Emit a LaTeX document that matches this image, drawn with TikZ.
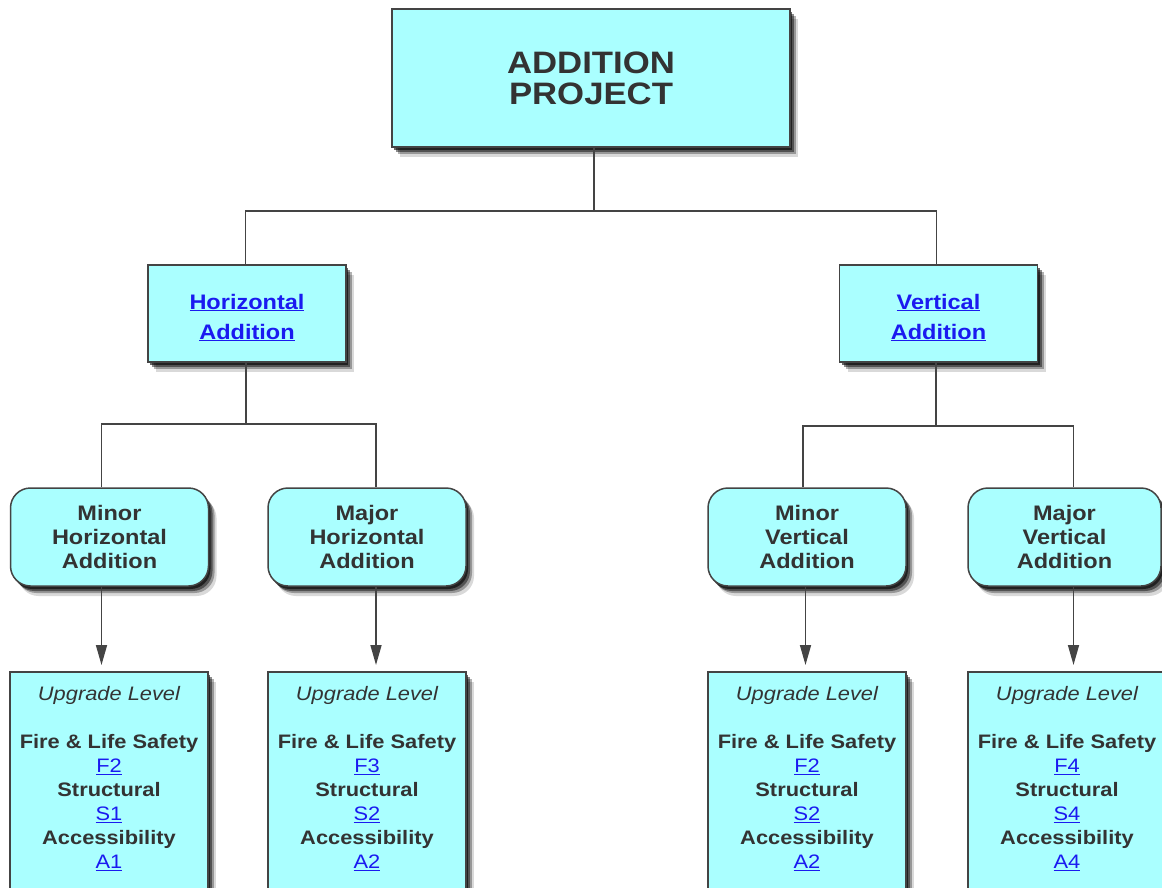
\documentclass[tikz,border=0pt]{standalone}
\usepackage{fontspec}
\setmainfont[FakeStretch=1.12]{Liberation Sans}
\usetikzlibrary{shadows,arrows.meta,calc}
\definecolor{boxfill}{HTML}{AAFFFF}
\definecolor{edge}{HTML}{444444}
\definecolor{txt}{HTML}{333333}
\definecolor{link}{HTML}{1A1AF0}
\newcommand{\lnk}[1]{\textcolor{link}{\underline{#1}}}
\tikzset{
  base/.style={draw=edge, line width=1.5pt, fill=boxfill, text=txt, align=center, inner sep=0pt},
  shad/.style={
    drop shadow={shadow xshift=2pt, shadow yshift=-3pt, opacity=.6, fill=black},
    drop shadow={shadow xshift=4pt, shadow yshift=-5pt, opacity=.45, fill=black},
    drop shadow={shadow xshift=6pt, shadow yshift=-7pt, opacity=.3, fill=black},
    drop shadow={shadow xshift=8pt, shadow yshift=-10pt, opacity=.15, fill=black}},
  topbox/.style={base, shad, minimum width=398pt, minimum height=138pt, font=\bfseries\fontsize{31}{31}\selectfont},
  midbox/.style={base, shad, minimum width=198pt, minimum height=97pt},
  midtext/.style={text=txt, align=center, inner sep=0pt, yshift=-4pt, font=\bfseries\fontsize{21}{30}\selectfont},
  roundbox/.style={base, shad, rounded corners=20pt, minimum width=198pt, minimum height=98pt, font=\bfseries\fontsize{21}{24}\selectfont},
  lowbox/.style={base, shad, minimum width=198pt, minimum height=260pt, anchor=north},
  lowtext/.style={text=txt, align=center, inner sep=0pt, anchor=north, font=\fontsize{19.5}{24}\selectfont},
  conn/.style={draw=edge, line width=1.6pt},
  arr/.style={conn, -{Triangle[length=20pt,width=11pt]}, shorten >=6pt}
}
\begin{document}
\begin{tikzpicture}[x=1pt,y=-1pt]
\clip (0,0) rectangle (1162,888);
\fill[white] (0,0) rectangle (1162,888);

% boxes
\node[topbox] (top) at (591,78) {ADDITION\\PROJECT};
\node[midbox] (ha) at (247,313.5) {};
\node[midtext] (hat) at (ha.center) {\lnk{Horizontal}\\\lnk{Addition}};
\node[midbox] (va) at (938.5,313.5) {};
\node[midtext] (vat) at (va.center) {\lnk{Vertical}\\\lnk{Addition}};

\node[roundbox] (mh) at (109.5,537) {Minor\\Horizontal\\Addition};
\node[roundbox] (jh) at (367,537) {Major\\Horizontal\\Addition};
\node[roundbox] (mv) at (807,537) {Minor\\Vertical\\Addition};
\node[roundbox, minimum width=193pt] (jv) at (1064.5,537) {Major\\Vertical\\Addition};

\node[lowbox] (b1) at (109,671) {};
\node[lowbox] (b2) at (367,671) {};
\node[lowbox] (b3) at (807,671) {};
\node[lowbox] (b4) at (1067,671) {};

\node[lowtext] (t1) at ($(b1.north)+(0,15)$) {{\itshape Upgrade Level}\\[24pt]\textbf{Fire \& Life Safety}\\\lnk{F2}\\\textbf{Structural}\\\lnk{S1}\\\textbf{Accessibility}\\\lnk{A1}};
\node[lowtext] (t2) at ($(b2.north)+(0,15)$) {{\itshape Upgrade Level}\\[24pt]\textbf{Fire \& Life Safety}\\\lnk{F3}\\\textbf{Structural}\\\lnk{S2}\\\textbf{Accessibility}\\\lnk{A2}};
\node[lowtext] (t3) at ($(b3.north)+(0,15)$) {{\itshape Upgrade Level}\\[24pt]\textbf{Fire \& Life Safety}\\\lnk{F2}\\\textbf{Structural}\\\lnk{S2}\\\textbf{Accessibility}\\\lnk{A2}};
\node[lowtext] (t4) at ($(b4.north)+(0,15)$) {{\itshape Upgrade Level}\\[24pt]\textbf{Fire \& Life Safety}\\\lnk{F4}\\\textbf{Structural}\\\lnk{S4}\\\textbf{Accessibility}\\\lnk{A4}};

% connectors
\coordinate (j0) at ($(top.south)+(3,63)$);
\draw[conn] ($(top.south)+(3,0)$) -- (j0);
\draw[conn] (j0) -| ($(ha.north)+(-1.5,0)$);
\draw[conn] (j0) -| ($(va.north)+(-2,0)$);

\coordinate (j1) at ($(ha.south)+(-1,61)$);
\draw[conn] ($(ha.south)+(-1,0)$) -- (j1);
\draw[conn] (j1) -| ($(mh.north)+(-8,0)$);
\draw[conn] (j1) -| ($(jh.north)+(9,0)$);

\coordinate (j2) at ($(va.south)+(-2.5,63)$);
\draw[conn] ($(va.south)+(-2.5,0)$) -- (j2);
\draw[conn] (j2) -| ($(mv.north)+(-4,0)$);
\draw[conn] (j2) -| ($(jv.north)+(9,0)$);

% arrows
\draw[arr] ($(mh.south)+(-8,0)$) -- ($(b1.north)+(-7.5,0)$);
\draw[arr] ($(jh.south)+(9,0)$) -- ($(b2.north)+(9,0)$);
\draw[arr] ($(mv.south)+(-1.5,0)$) -- ($(b3.north)+(-1.5,0)$);
\draw[arr] ($(jv.south)+(9,0)$) -- ($(b4.north)+(6.5,0)$);
\end{tikzpicture}
\end{document}
